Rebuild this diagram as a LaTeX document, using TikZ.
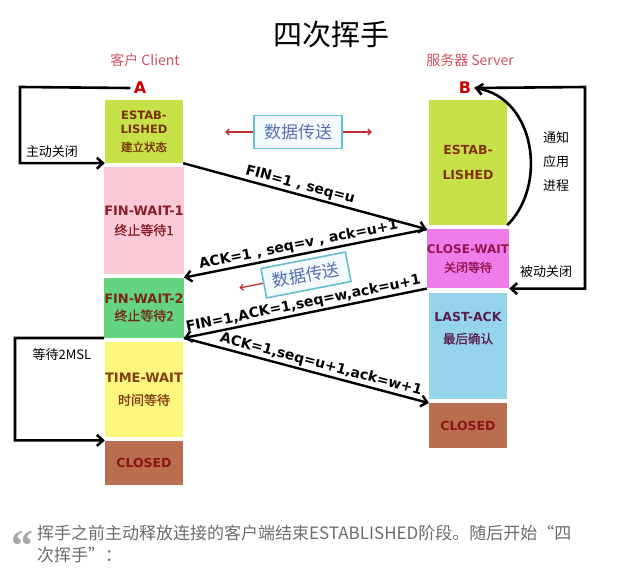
\documentclass[tikz,border=0pt]{standalone}
\usepackage{fontspec}
\setmainfont{DejaVu Sans}
\newfontfamily\cjk[BoldFont={Noto Sans CJK SC},BoldFeatures={FakeBold=1.2}]{Noto Sans CJK SC}
\newfontfamily\quotefont{Liberation Serif}
\usetikzlibrary{positioning,calc,arrows.meta}

\definecolor{estabcol}{RGB}{198,226,72}
\definecolor{fwonecol}{RGB}{250,202,214}
\definecolor{fwtwocol}{RGB}{100,212,128}
\definecolor{timecol}{RGB}{252,246,125}
\definecolor{closedcol}{RGB}{185,110,80}
\definecolor{cwcol}{RGB}{238,125,235}
\definecolor{lastcol}{RGB}{150,212,235}
\definecolor{peercol}{RGB}{210,80,95}
\definecolor{datacol}{RGB}{100,190,210}
\definecolor{datatext}{RGB}{90,110,180}
\definecolor{redarrowcol}{RGB}{190,50,50}

\begin{document}
\begin{tikzpicture}[
    x=1pt, y=-1pt,
    state/.style={rectangle, minimum width=78pt, inner sep=0pt, align=center, font=\bfseries\fontsize{13}{20}\selectfont},
    peer/.style={text=peercol, font=\cjk\fontsize{14}{16}\selectfont},
    letter/.style={text=red!80!black, font=\bfseries\fontsize{16}{16}\selectfont},
    msg/.style={-{Straight Barb[length=6pt,width=11pt]}, line width=2.4pt},
    loop/.style={-{Straight Barb[length=6pt,width=11pt]}, line width=2.6pt},
    lbl/.style={font=\bfseries\fontsize{14}{14}\selectfont, inner sep=1.5pt},
    note/.style={font=\cjk\fontsize{13}{24}\selectfont, align=center},
    databox/.style={draw=datacol, line width=1.6pt, fill=datacol!8, text=datatext, font=\cjk\fontsize{17}{17}\selectfont, minimum width=88pt, minimum height=33pt},
    redarrow/.style={-{Straight Barb[length=3pt,width=6pt]}, draw=redarrowcol, line width=1.3pt}
]
    \useasboundingbox (0,0) rectangle (635,575);

    % Title and peers
    \node[font=\cjk\fontsize{29}{29}\selectfont] (title) at (331,35) {四次挥手};
    \node[peer] (client) at (145,60) {客户 Client};
    \node[peer] (server) at (470,60) {服务器 Server};
    \node[letter] (A) at (140,88) {A};
    \node[letter] (B) at (465,88) {B};

    % Client states
    \node[state, fill=estabcol, minimum height=63pt, text={rgb,255:red,120;green,50;blue,10}, font=\bfseries\fontsize{11.5}{14}\selectfont] (estabA) at (144,131.5) {ESTAB-\\LISHED\\[4pt]{\cjk 建立状态}};
    \node[state, fill=fwonecol, minimum height=107pt, below=4pt of estabA, text={rgb,255:red,140;green,30;blue,40}] (fwone) {FIN-WAIT-1\\{\cjk 终止等待1}};
    \node[state, fill=fwtwocol, minimum height=60pt, below=3pt of fwone, text={rgb,255:red,120;green,40;blue,20}, font=\bfseries\fontsize{13}{17}\selectfont] (fwtwo) {FIN-WAIT-2\\{\cjk 终止等待2}};
    \node[state, fill=timecol, minimum height=95pt, below=4pt of fwtwo, text={rgb,255:red,130;green,60;blue,20}, font=\bfseries\fontsize{13}{22}\selectfont] (timewait) {TIME-WAIT\\{\cjk 时间等待}};
    \node[state, fill=closedcol, minimum height=44pt, below=3pt of timewait, text={rgb,255:red,140;green,20;blue,20}, font=\bfseries\fontsize{12.5}{15}\selectfont] (closedA) {CLOSED};

    % Server states
    \node[state, fill=estabcol, minimum height=125pt, text={rgb,255:red,130;green,50;blue,10}, font=\bfseries\fontsize{12.5}{25}\selectfont] (estabB) at (468,162.5) {ESTAB-\\LISHED};
    \node[state, fill=cwcol, minimum height=59pt, below=4pt of estabB, text={rgb,255:red,150;green,20;blue,80}, font=\bfseries\fontsize{12}{18}\selectfont] (cw) {CLOSE-WAIT\\{\cjk 关闭等待}};
    \node[state, fill=lastcol, minimum height=106pt, below=4pt of cw, text={rgb,255:red,90;green,30;blue,80}, font=\bfseries\fontsize{12.5}{22}\selectfont] (lastack) {LAST-ACK\\{\cjk 最后确认}\\[14pt]};
    \node[state, fill=closedcol, minimum height=45pt, below=4pt of lastack, text={rgb,255:red,140;green,20;blue,20}, font=\bfseries\fontsize{12.5}{15}\selectfont] (closedB) {CLOSED};

    % Data transfer
    \node[databox] (dataone) at (298,132) {数据传送};
    \coordinate[left=28pt of dataone] (dataoneL);
    \coordinate[right=29pt of dataone] (dataoneR);
    \draw[redarrow] (dataone.west) -- (dataoneL);
    \draw[redarrow] (dataone.east) -- (dataoneR);
    \node[databox, rotate=11, minimum width=86pt, minimum height=30pt] (datatwo) at (306,275) {数据传送};
    \coordinate (datatwoL) at ($(datatwo.west)+(191:24pt)$);
    \draw[redarrow] (datatwo.west) -- (datatwoL);

    % Messages
    \draw[msg] (estabA.south east) -- node[lbl, sloped, above, pos=0.47] {FIN=1 , seq=u} (cw.north west);
    \draw[msg] (cw.north west) -- node[lbl, sloped, above, pos=0.52] {ACK=1 , seq=v , ack=u+1} (fwtwo.north east);
    \draw[msg] (cw.south west) -- node[lbl, sloped, above] {FIN=1,ACK=1,seq=w,ack=u+1} (fwtwo.south east);
    \draw[msg] (fwtwo.south east) -- node[lbl, sloped, above, pos=0.55] {ACK=1,seq=u+1,ack=w+1} (closedB.north west);

    % Client loops
    \coordinate (loopA) at (20,87);
    \draw[loop] (A.west) -- (loopA) |- (estabA.south west);
    \node[note] (activeclose) at (52,152) {主动关闭};
    \coordinate (loopT) at (15,338);
    \draw[loop] (fwtwo.south west) -- (loopT) |- (closedA.north west);
    \node[note] (msl) at (62,355) {等待2MSL};

    % Server loops
    \coordinate (loopB) at (585,87);
    \draw[loop] (B.east) -- (loopB) |- (cw.south east);
    \draw[loop] (estabB.south east) .. controls (548,185) and (535,98) .. (B.east);
    \node[note] (notify) at (556,162) {通知\\应用\\进程};
    \node[note] (passiveclose) at (546,272) {被动关闭};

    % Caption
    \node[anchor=base, text=gray!70, font=\quotefont\bfseries\fontsize{44}{44}\selectfont, inner sep=0pt] (quote) at (23,560) {“};
    \node[anchor=north west, align=left, text=gray!85!black, font=\cjk\fontsize{17}{22}\selectfont, inner sep=0pt] (caption) at (37,525) {挥手之前主动释放连接的客户端结束ESTABLISHED阶段。随后开始“四\\次挥手”：};
\end{tikzpicture}
\end{document}
